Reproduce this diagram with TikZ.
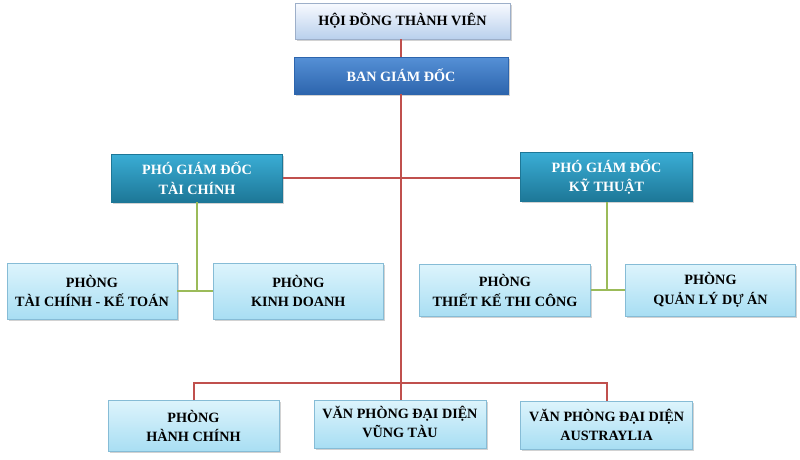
\documentclass[tikz,border=0pt]{standalone}
\usepackage{fontspec}
\setmainfont{Liberation Serif}
\usetikzlibrary{shadows}
\definecolor{redline}{HTML}{C0504D}
\definecolor{greenline}{HTML}{9BBB59}
\definecolor{lighttop}{HTML}{DDF4FC}
\definecolor{lightbot}{HTML}{A8DEF3}
\definecolor{lightborder}{HTML}{86BCD6}
\definecolor{hdtop}{HTML}{F8FAFF}
\definecolor{hdbot}{HTML}{B9D0EC}
\definecolor{hdborder}{HTML}{9DAFC9}
\definecolor{bgdtop}{HTML}{5590D6}
\definecolor{bgdbot}{HTML}{2D65AD}
\definecolor{pgdtop}{HTML}{3AADD5}
\definecolor{pgdbot}{HTML}{1D7797}
\tikzset{
  base/.style={rectangle, align=center, inner sep=0pt,
    font=\fontsize{14.2}{19.5}\selectfont\bfseries,
    drop shadow={shadow xshift=1.5pt, shadow yshift=-1.5pt, opacity=0.35, fill=gray}},
  lightbox/.style={base, draw=lightborder, line width=0.8pt, top color=lighttop, bottom color=lightbot, text=black},
  hdbox/.style={base, draw=hdborder, line width=0.8pt, top color=hdtop, bottom color=hdbot, text=black},
  bgdbox/.style={base, draw=bgdbot, line width=0.6pt, top color=bgdtop, bottom color=bgdbot, text=white},
  pgdbox/.style={base, draw=pgdbot, line width=0.6pt, top color=pgdtop, bottom color=pgdbot, text=white},
  redc/.style={draw=redline, line width=2pt},
  greenc/.style={draw=greenline, line width=2pt}
}
\begin{document}
\begin{tikzpicture}[x=1pt,y=-1pt]
\useasboundingbox (0,0) rectangle (800,459);
\fill[white] (0,0) rectangle (800,459);

\coordinate (junc) at (400.7,177.7);
\coordinate (bot) at (400.7,383);
\coordinate (botL) at (194,383);
\coordinate (botR) at (607,383);
\coordinate (gL) at (197,291);
\coordinate (gR) at (606.5,290);

\node[hdbox, minimum width=215pt, minimum height=36pt] (hdtv) at (402.5,21) {HỘI ĐỒNG THÀNH VIÊN};
\node[bgdbox, minimum width=214pt, minimum height=37pt] (bgd) at (401,75.5) {BAN GIÁM ĐỐC};
\node[pgdbox, minimum width=171pt, minimum height=48pt] (pgdtc) at (197,178) {PHÓ GIÁM ĐỐC\\TÀI CHÍNH};
\node[pgdbox, minimum width=172pt, minimum height=49pt] (pgdkt) at (606.5,177) {PHÓ GIÁM ĐỐC\\KỸ THUẬT};
\node[lightbox, minimum width=170pt, minimum height=56pt] (tckt) at (92,291) {PHÒNG\\TÀI CHÍNH - KẾ TOÁN};
\node[lightbox, minimum width=170pt, minimum height=56pt] (kd) at (298.3,291) {PHÒNG\\KINH DOANH};
\node[lightbox, minimum width=171pt, minimum height=52pt] (tktc) at (505,290.5) {PHÒNG\\THIẾT KẾ THI CÔNG};
\node[lightbox, minimum width=170pt, minimum height=52pt] (qlda) at (710.5,290) {PHÒNG\\QUẢN LÝ DỰ ÁN};
\node[lightbox, minimum width=171pt, minimum height=51pt] (hc) at (193.5,426) {PHÒNG\\HÀNH CHÍNH};
\node[lightbox, minimum width=172pt, minimum height=48pt, text depth=4pt] (vt) at (400,424) {VĂN PHÒNG ĐẠI DIỆN\\VŨNG TÀU};
\node[lightbox, minimum width=172pt, minimum height=48pt] (au) at (606.7,425) {VĂN PHÒNG ĐẠI DIỆN\\AUSTRAYLIA};

% red connectors
\draw[redc] (hdtv.south -| junc) -- (bgd.north -| junc);
\draw[redc] (bgd.south -| junc) -- (bot);
\draw[redc] (pgdtc.east |- junc) -- (pgdkt.west |- junc);
\draw[redc] (hc.north -| botL) -- (botL) -- (botR) -- (au.north -| botR);
\draw[redc] (bot) -- (vt.north -| bot);

% green connectors
\draw[greenc] (pgdtc.south) -- (gL);
\draw[greenc] (tckt.east |- gL) -- (kd.west |- gL);
\draw[greenc] (pgdkt.south) -- (gR);
\draw[greenc] (tktc.east |- gR) -- (qlda.west |- gR);
\end{tikzpicture}
\end{document}
